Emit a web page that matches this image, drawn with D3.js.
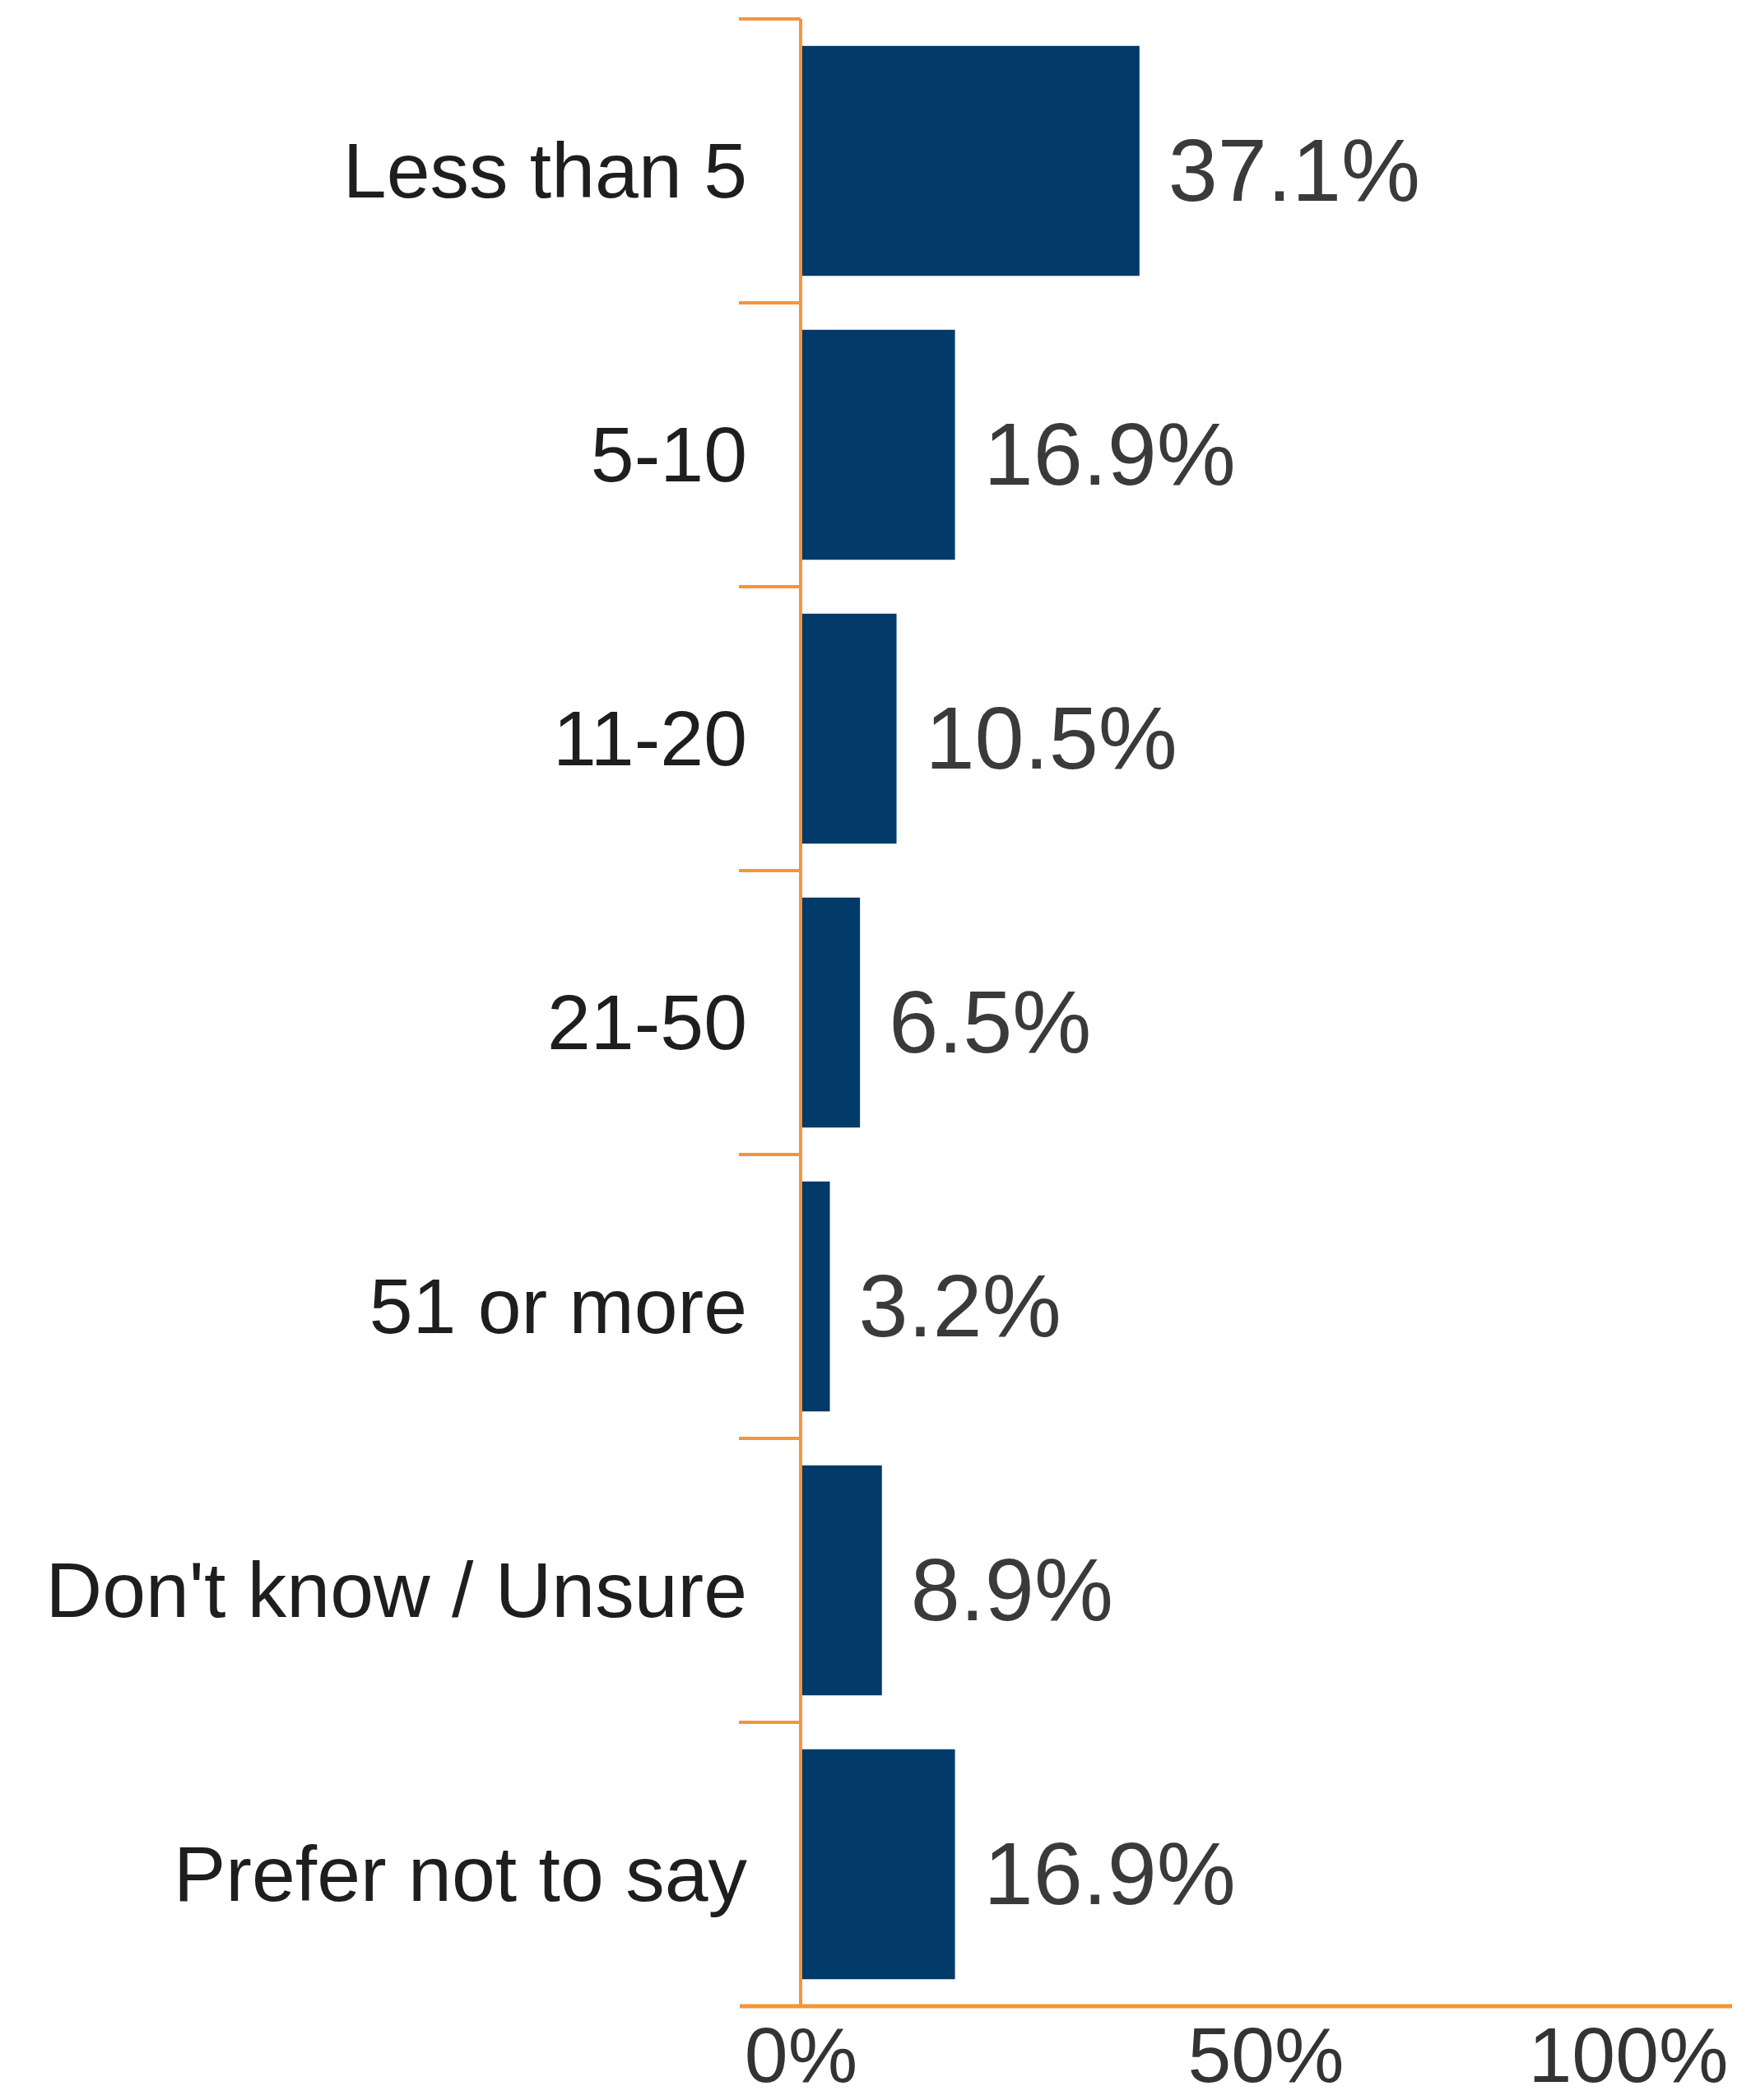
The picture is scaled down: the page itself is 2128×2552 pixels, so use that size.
<!DOCTYPE html>
<html>
<head>
<meta charset="utf-8">
<script src="https://cdn.jsdelivr.net/npm/d3@7"></script>
<style>
  body { margin: 0; background: #fff; }
  text { font-family: "Liberation Sans", Arial, sans-serif; }
</style>
</head>
<body>
<div id="chart"></div>
<script>
var w = 2128;
var h = 2552;

var categories = ["Less than 5", "5-10", "11-20", "21-50", "51 or more", "Don't know / Unsure", "Prefer not to say"];
var values = [0.371, 0.169, 0.105, 0.065, 0.032, 0.089, 0.169];
var xTicks = [0, 0.5, 1];

var orange = "#f5943a";
var navy = "#023a69";

var svg = d3.select("#chart")
  .append("svg")
  .attr("width", w)
  .attr("height", h);

var x = d3.scaleLinear().domain([0, 1]).range([973, 2083]);
var y = d3.scaleBand()
  .domain(categories)
  .range([23, 2438])
  .paddingInner(0.19)
  .paddingOuter(0.095);

// bars
svg.selectAll("rect.bar")
  .data(categories)
  .enter()
  .append("rect")
  .attr("class", "bar")
  .attr("x", x(0))
  .attr("y", function(d) { return y(d); })
  .attr("width", function(d, i) { return x(values[i]) - x(0); })
  .attr("height", y.bandwidth())
  .style("fill", navy);

// value labels
svg.selectAll("text.val")
  .data(categories)
  .enter()
  .append("text")
  .attr("class", "val")
  .attr("x", function(d, i) { return x(values[i]) + 35; })
  .attr("y", function(d) { return y(d) + y.bandwidth() / 2 + 10; })
  .attr("dy", "0.36em")
  .style("font-size", "108px")
  .style("fill", "#3a3a3a")
  .text(function(d, i) { return (values[i] * 100).toFixed(1) + "%"; });

// category axis
var yAxis = svg.append("g")
  .attr("transform", "translate(" + x(0) + ",0)")
  .call(d3.axisLeft(y).tickSize(0).tickPadding(65));
yAxis.select(".domain").remove();
yAxis.selectAll("text")
  .attr("dy", "0.36em")
  .attr("y", 10)
  .style("font-size", "95px")
  .style("fill", "#1e1e1e");

// band boundary ticks
var r0 = y.range()[0];
var bounds = d3.range(categories.length).map(function(i) { return r0 + i * y.step(); });
svg.selectAll("line.tick")
  .data(bounds)
  .enter()
  .append("line")
  .attr("x1", x(0) - 75)
  .attr("x2", x(0))
  .attr("y1", function(d) { return d; })
  .attr("y2", function(d) { return d; })
  .style("stroke", orange)
  .style("stroke-width", 4);

// vertical axis line
svg.append("line")
  .attr("x1", x(0)).attr("x2", x(0))
  .attr("y1", y.range()[0]).attr("y2", y.range()[1])
  .style("stroke", orange)
  .style("stroke-width", 4);

// x axis
var xAxis = svg.append("g")
  .attr("transform", "translate(0," + y.range()[1] + ")")
  .call(d3.axisBottom(x).tickValues(xTicks).tickFormat(d3.format(".0%")).tickSize(0).tickPadding(25));
xAxis.select(".domain").remove();
xAxis.selectAll("text")
  .style("font-size", "95px")
  .style("fill", "#333");

var axisEnd = 2105;
xAxis.selectAll(".tick text")
  .filter(function(d) { return d === 1; })
  .attr("text-anchor", "end")
  .attr("x", axisEnd - 5 - x(1));
xAxis.selectAll(".tick text")
  .filter(function(d) { return d === 0.5; })
  .attr("x", 10);

svg.append("line")
  .attr("x1", x(0) - 74).attr("x2", axisEnd)
  .attr("y1", y.range()[1]).attr("y2", y.range()[1])
  .style("stroke", orange)
  .style("stroke-width", 5);
</script>
</body>
</html>
